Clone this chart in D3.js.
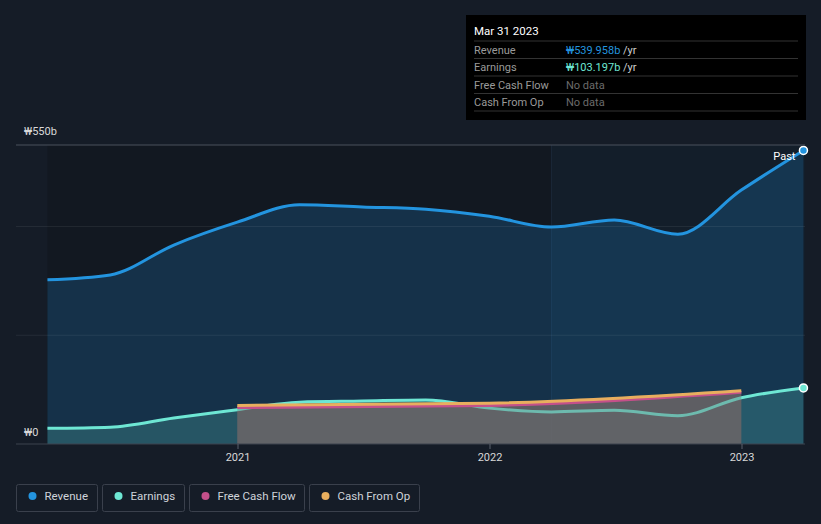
<!DOCTYPE html>
<html>
<head>
<meta charset="utf-8">
<script src="https://cdn.jsdelivr.net/npm/d3@7"></script>
<style>
    body { margin: 0; background: #151c27; }
    svg { display: block; font-family: Roboto, "Open Sans", sans-serif; }
</style>
</head>
<body>
<svg id="chart" width="821" height="524"></svg>
<script>
// quarterly periods (trailing twelve months)
const QUARTERS = ["2020-03-31", "2020-06-30", "2020-09-30", "2020-12-31", "2021-03-31", "2021-06-30",
    "2021-09-30", "2021-12-31", "2022-03-31", "2022-06-30", "2022-09-30", "2022-12-31", "2023-03-31"];
const REVENUE = [302, 311, 366, 408, 440, 436, 432, 419, 399, 412, 386, 467, 539.958];
const EARNINGS = [29, 31, 48, 63, 77, 79, 81, 66, 59, 62, 52, 85, 103.197];

// annual periods for cash flow
const YEARS = ["2020-12-31", "2021-12-31", "2022-12-31"];
const FREE_CASH_FLOW = [67, 71, 95];
const CASH_FROM_OP = [71, 75, 98];

const X_TICKS = ["2021", "2022", "2023"];
const Y_LABELS = [{ v: 550, t: "₩550b" }, { v: 0, t: "₩0" }];
const GRID_VALUES = [200, 400];

const SERIES = [
    { name: "Revenue", color: "#2394df" },
    { name: "Earnings", color: "#6ee7d4" },
    { name: "Free Cash Flow", color: "#c4508a" },
    { name: "Cash From Op", color: "#e8ae5e" }
];

const TOOLTIP_ROWS = [
    { label: "Revenue", value: "₩539.958b", unit: " /yr", color: "#2394df" },
    { label: "Earnings", value: "₩103.197b", unit: " /yr", color: "#6ee7d4" },
    { label: "Free Cash Flow", value: "No data", unit: "", color: "#6b6b6b" },
    { label: "Cash From Op", value: "No data", unit: "", color: "#6b6b6b" }
];

const parse = d3.timeParse("%Y-%m-%d");
const svg = d3.select("#chart");

const plotLeft = 16, plotRight = 805, plotTop = 145, plotBottom = 444;

const x = d3.scaleTime()
    .domain([parse("2021-01-01"), parse("2023-01-01")])
    .range([238, 742]);
const y = d3.scaleLinear().domain([0, 550]).range([plotBottom, plotTop]);

const quarterly = QUARTERS.map((d, i) => ({ date: parse(d), rev: REVENUE[i], earn: EARNINGS[i] }));
const annual = YEARS.map((d, i) => ({ date: parse(d), fcf: FREE_CASH_FLOW[i], cfo: CASH_FROM_OP[i] }));

const firstX = x(quarterly[0].date);
const pastX = x(parse("2022-03-31"));

// plot backgrounds
svg.append("rect")
    .attr("x", firstX).attr("y", plotTop)
    .attr("width", plotRight - firstX).attr("height", plotBottom - plotTop)
    .attr("fill", "#121821");
svg.append("rect")
    .attr("x", pastX).attr("y", plotTop)
    .attr("width", plotRight - pastX).attr("height", plotBottom - plotTop)
    .attr("fill", "#131e2a");
svg.append("line")
    .attr("x1", pastX).attr("x2", pastX).attr("y1", plotTop).attr("y2", plotBottom)
    .attr("stroke", "#1a2838").attr("stroke-width", 1);

const curve = d3.curveMonotoneX;

// areas
const revArea = d3.area().curve(curve).x((d) => x(d.date)).y0(plotBottom).y1((d) => y(d.rev));
svg.append("path").datum(quarterly)
    .attr("d", revArea).attr("fill", "#2394df").attr("fill-opacity", 0.21);

// grid lines
svg.selectAll(".grid").data(GRID_VALUES).enter()
    .append("line")
    .attr("x1", plotLeft).attr("x2", plotRight)
    .attr("y1", (d) => y(d)).attr("y2", (d) => y(d))
    .attr("stroke", "#ffffff").attr("stroke-opacity", 0.07);

const earnArea = d3.area().curve(curve).x((d) => x(d.date)).y0(plotBottom).y1((d) => y(d.earn));
svg.append("path").datum(quarterly)
    .attr("d", earnArea).attr("fill", "#6ee7d4").attr("fill-opacity", 0.2);

const cashArea = d3.area().curve(curve).x((d) => x(d.date)).y0(plotBottom).y1((d) => y(d.cfo));
svg.append("path").datum(annual)
    .attr("d", cashArea).attr("fill", "#6e6668").attr("fill-opacity", 0.75);

// lines
const revLine = d3.line().curve(curve).x((d) => x(d.date)).y((d) => y(d.rev));
svg.append("path").datum(quarterly)
    .attr("d", revLine).attr("fill", "none")
    .attr("stroke", SERIES[0].color).attr("stroke-width", 3);

const earnLine = d3.line().curve(curve).x((d) => x(d.date)).y((d) => y(d.earn));
svg.append("path").datum(quarterly)
    .attr("d", earnLine).attr("fill", "none")
    .attr("stroke", SERIES[1].color).attr("stroke-width", 3);

svg.append("path").datum(annual)
    .attr("d", cashArea).attr("fill", "#6e6668").attr("fill-opacity", 0.35);

const fcfLine = d3.line().curve(curve).x((d) => x(d.date)).y((d) => y(d.fcf));
svg.append("path").datum(annual)
    .attr("d", fcfLine).attr("fill", "none")
    .attr("stroke", SERIES[2].color).attr("stroke-width", 3);

const cfoLine = d3.line().curve(curve).x((d) => x(d.date)).y((d) => y(d.cfo));
svg.append("path").datum(annual)
    .attr("d", cfoLine).attr("fill", "none")
    .attr("stroke", SERIES[3].color).attr("stroke-width", 3);

// end points
const last = quarterly[quarterly.length - 1];
[["rev", SERIES[0].color], ["earn", SERIES[1].color]].forEach(([k, c]) => {
    svg.append("circle")
        .attr("cx", x(last.date)).attr("cy", y(last[k])).attr("r", 4)
        .attr("fill", c).attr("stroke", "#ffffff").attr("stroke-width", 1.5);
});

svg.append("text")
    .attr("x", x(last.date) - 8).attr("y", 160)
    .attr("text-anchor", "end").attr("fill", "#ffffff").attr("font-size", 11)
    .text("Past");

// axes lines
svg.append("line")
    .attr("x1", plotLeft).attr("x2", plotRight).attr("y1", plotTop).attr("y2", plotTop)
    .attr("stroke", "#4a505c").attr("stroke-width", 1);
svg.append("line")
    .attr("x1", plotLeft).attr("x2", plotRight).attr("y1", plotBottom).attr("y2", plotBottom)
    .attr("stroke", "#3c424e").attr("stroke-width", 1);

// y labels
svg.selectAll(".ylabel").data(Y_LABELS).enter()
    .append("text")
    .attr("x", 24)
    .attr("y", (d) => d.v === 0 ? y(d.v) - 8 : y(d.v) - 10)
    .attr("fill", "#d8d8d8").attr("font-size", 11)
    .text((d) => d.t);

// x ticks
const tickDates = X_TICKS.map((t) => parse(t + "-01-01"));
svg.selectAll(".xtick").data(tickDates).enter()
    .append("line")
    .attr("x1", (d) => x(d)).attr("x2", (d) => x(d))
    .attr("y1", plotBottom).attr("y2", plotBottom + 5)
    .attr("stroke", "#5a606c");
svg.selectAll(".xlabel").data(X_TICKS).enter()
    .append("text")
    .attr("x", (d, i) => x(tickDates[i]))
    .attr("y", 461)
    .attr("text-anchor", "middle").attr("fill", "#d8d8d8").attr("font-size", 11)
    .text((d) => d);

// tooltip
const tip = svg.append("g").attr("transform", "translate(466 15)");
tip.append("rect").attr("width", 340).attr("height", 105).attr("fill", "#000000");
tip.append("text").attr("x", 8).attr("y", 20)
    .attr("fill", "#ffffff").attr("font-size", 11.5).text("Mar 31 2023");
TOOLTIP_ROWS.forEach((row, i) => {
    const ry = 26 + i * 17.5;
    tip.append("line").attr("x1", 8).attr("x2", 332).attr("y1", ry).attr("y2", ry)
        .attr("stroke", "#333333");
    tip.append("text").attr("x", 8).attr("y", ry + 12.5)
        .attr("fill", "#9a9a9a").attr("font-size", 11).text(row.label);
    const t = tip.append("text").attr("x", 100).attr("y", ry + 12.5).attr("font-size", 11);
    t.append("tspan").attr("fill", row.color).text(row.value);
    t.append("tspan").attr("fill", "#cfcfcf").text(row.unit);
});
tip.append("line").attr("x1", 8).attr("x2", 332).attr("y1", 96).attr("y2", 96)
    .attr("stroke", "#333333");

// legend
const legendBoxes = [{ x: 16, w: 81 }, { x: 102, w: 82 }, { x: 189, w: 115 }, { x: 309, w: 110 }];
const legend = svg.selectAll(".legend").data(SERIES).enter()
    .append("g")
    .attr("transform", (d, i) => "translate(" + (legendBoxes[i].x + 0.5) + " 484.5)");
legend.append("rect")
    .attr("width", (d, i) => legendBoxes[i].w).attr("height", 27).attr("rx", 2)
    .attr("fill", "none").attr("stroke", "#3a404c");
legend.append("circle").attr("cx", 16).attr("cy", 11.5).attr("r", 4)
    .attr("fill", (d) => d.color);
legend.append("text").attr("x", 28).attr("y", 15.5)
    .attr("fill", "#cfd3da").attr("font-size", 11.5)
    .text((d) => d.name);
</script>
</body>
</html>
